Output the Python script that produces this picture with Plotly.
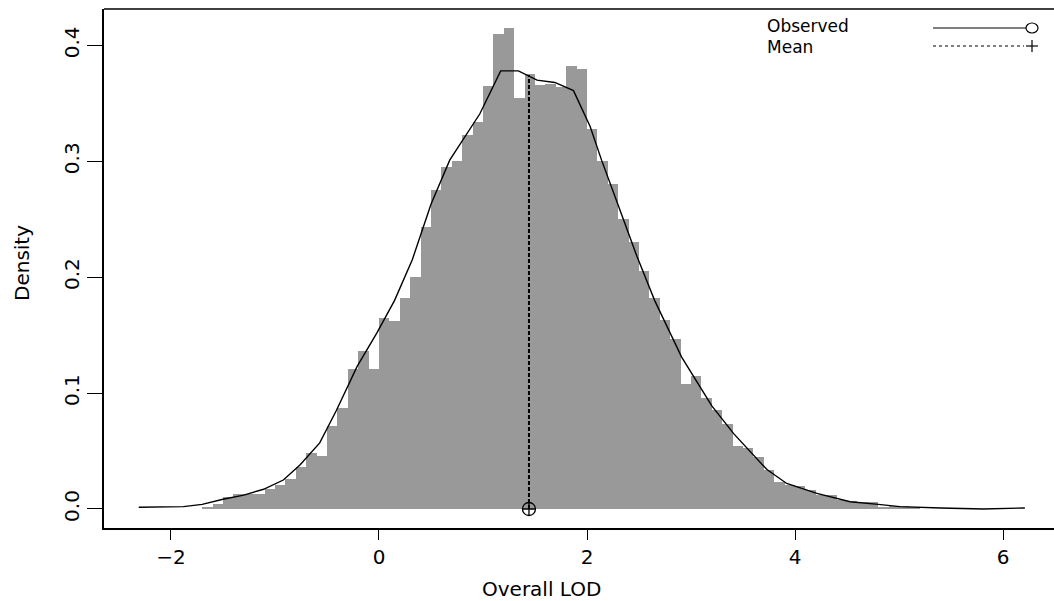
import plotly.graph_objects as go

# ---- data ----
bin_centers = [-1.65, -1.55, -1.45, -1.35, -1.25, -1.15, -1.05, -0.95, -0.85, -0.75,
               -0.65, -0.55, -0.45, -0.35, -0.25, -0.15, -0.05, 0.05, 0.15, 0.25,
               0.35, 0.45, 0.55, 0.65, 0.75, 0.85, 0.95, 1.05, 1.15, 1.25,
               1.35, 1.45, 1.55, 1.65, 1.75, 1.85, 1.95, 2.05, 2.15, 2.25,
               2.35, 2.45, 2.55, 2.65, 2.75, 2.85, 2.95, 3.05, 3.15, 3.25,
               3.35, 3.45, 3.55, 3.65, 3.75, 3.85, 3.95, 4.05, 4.15, 4.25,
               4.35, 4.45, 4.55, 4.65, 4.75, 4.85, 4.95, 5.05, 5.15]
bin_density = [0.002, 0.004, 0.010, 0.013, 0.013, 0.013, 0.017, 0.021, 0.026, 0.036,
               0.048, 0.046, 0.072, 0.087, 0.121, 0.136, 0.121, 0.165, 0.162, 0.182,
               0.200, 0.243, 0.275, 0.295, 0.300, 0.323, 0.334, 0.365, 0.410, 0.415,
               0.355, 0.375, 0.366, 0.367, 0.364, 0.382, 0.380, 0.328, 0.300, 0.280,
               0.250, 0.230, 0.205, 0.182, 0.163, 0.147, 0.108, 0.115, 0.096, 0.085,
               0.073, 0.054, 0.053, 0.045, 0.034, 0.023, 0.021, 0.020, 0.016, 0.012,
               0.012, 0.008, 0.0066, 0.0058, 0.0058, 0.0015, 0.003, 0.003, 0.001]
bin_width = 0.1

curve_x = [-2.31, -2.1, -1.88, -1.7, -1.5, -1.3, -1.11, -0.92, -0.76, -0.57,
           -0.41, -0.21, -0.02, 0.15, 0.32, 0.5, 0.68, 0.97, 1.17, 1.34,
           1.52, 1.69, 1.87, 2.03, 2.14, 2.3, 2.48, 2.65, 2.91, 3.2,
           3.41, 3.73, 3.92, 4.21, 4.53, 4.8, 5.01, 5.4, 5.81, 6.21]
curve_y = [0.0015, 0.0015, 0.002, 0.004, 0.0084, 0.012, 0.017, 0.025, 0.038, 0.057,
           0.085, 0.123, 0.152, 0.180, 0.215, 0.263, 0.301, 0.341, 0.378, 0.378,
           0.370, 0.368, 0.361, 0.330, 0.301, 0.262, 0.218, 0.180, 0.131, 0.089,
           0.065, 0.034, 0.022, 0.0135, 0.0063, 0.004, 0.002, 0.0008, 0.0, 0.0009]

mean_lod = 1.442
mean_top = 0.3745

x_ticks = [-2, 0, 2, 4, 6]
x_tick_labels = ["\u22122", "0", "2", "4", "6"]
y_ticks = [0.0, 0.1, 0.2, 0.3, 0.4]
y_tick_labels = ["0.0", "0.1", "0.2", "0.3", "0.4"]

FONT = "DejaVu Sans"
FS = 20
LEG_FS = 17

fig = go.Figure()
fig.add_trace(go.Bar(x=bin_centers, y=bin_density, width=bin_width,
                     marker=dict(color="#999999", line=dict(width=0)),
                     showlegend=False, hoverinfo="skip"))
fig.add_trace(go.Scatter(x=curve_x, y=curve_y, mode="lines",
                         line=dict(color="black", width=1.4), showlegend=False))
fig.add_trace(go.Scatter(x=[mean_lod, mean_lod], y=[0, mean_top], mode="lines",
                         line=dict(color="black", width=2, dash="4px,2px"),
                         showlegend=False))
fig.add_trace(go.Scatter(x=[mean_lod], y=[0], mode="markers",
                         marker=dict(symbol="circle-cross-open", size=13, color="black",
                                     line=dict(width=1.3, color="black")),
                         showlegend=False))

W, H = 1054, 601
L, R, T, B = 104, 0, 9, 73
pw, ph = W - L - R, H - T - B

def px(x):
    return (x - L) / pw

def py(y):
    return (H - B - y) / ph

shapes = [
    dict(type="line", xref="paper", yref="paper", x0=0, x1=1, y0=1, y1=1,
         line=dict(color="black", width=1.5)),
    # legend: Observed (solid line + circle)
    dict(type="line", xref="paper", yref="paper", x0=px(933), x1=px(1026), y0=py(28), y1=py(28),
         line=dict(color="black", width=1.2)),
    dict(type="circle", xref="paper", yref="paper", x0=px(1026), x1=px(1038), y0=py(33), y1=py(23),
         line=dict(color="black", width=1.2)),
    # legend: Mean (dashed line + plus)
    dict(type="line", xref="paper", yref="paper", x0=px(933), x1=px(1024), y0=py(46), y1=py(46),
         line=dict(color="black", width=1.2, dash="3px,3px")),
    dict(type="line", xref="paper", yref="paper", x0=px(1026), x1=px(1038), y0=py(46), y1=py(46),
         line=dict(color="black", width=1.2)),
    dict(type="line", xref="paper", yref="paper", x0=px(1032), x1=px(1032), y0=py(40), y1=py(52),
         line=dict(color="black", width=1.2)),
]

annotations = [
    dict(text="Observed", xref="paper", yref="paper", x=px(765), y=py(26.5), xanchor="left",
         yanchor="middle", showarrow=False, font=dict(family=FONT, size=LEG_FS, color="black")),
    dict(text="Mean", xref="paper", yref="paper", x=px(765), y=py(47), xanchor="left",
         yanchor="middle", showarrow=False, font=dict(family=FONT, size=LEG_FS, color="black")),
    dict(text="Overall LOD", xref="paper", yref="paper", x=px(541), y=py(589), xanchor="center",
         yanchor="middle", showarrow=False, font=dict(family=FONT, size=FS, color="black")),
    dict(text="Density", xref="paper", yref="paper", x=px(22), y=py(263), xanchor="center",
         yanchor="middle", textangle=-90, showarrow=False,
         font=dict(family=FONT, size=FS, color="black")),
]

fig.update_layout(
    width=W, height=H,
    margin=dict(l=L, r=R, t=T, b=B, pad=0),
    paper_bgcolor="white", plot_bgcolor="white",
    bargap=0, showlegend=False,
    font=dict(family=FONT, size=FS, color="black"),
    shapes=shapes, annotations=annotations,
    xaxis=dict(range=[-2.644, 6.49], tickmode="array", tickvals=x_ticks, ticktext=x_tick_labels,
               ticks="outside", ticklen=10, tickwidth=1.3, tickcolor="black",
               showline=True, linecolor="black", linewidth=1.5, showgrid=False, zeroline=False,
               tickfont=dict(family=FONT, size=FS, color="black")),
    yaxis=dict(range=[-0.0164, 0.4314], tickmode="array", tickvals=y_ticks, ticktext=y_tick_labels,
               ticks="outside", ticklen=15, tickwidth=1.3, tickcolor="black", tickangle=-90,
               showline=True, linecolor="black", linewidth=1.5, showgrid=False, zeroline=False,
               tickfont=dict(family=FONT, size=FS, color="black")),
)

fig.write_html("out.html")
